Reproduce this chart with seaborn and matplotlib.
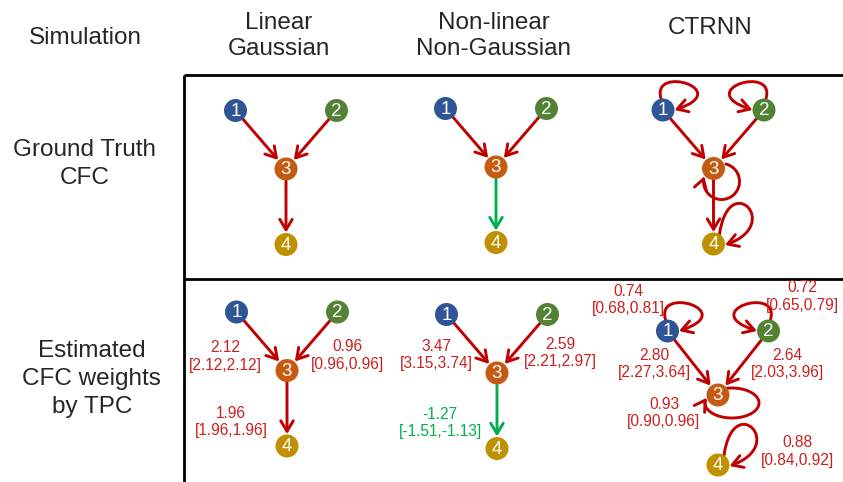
import numpy as np
import pandas as pd
import matplotlib.pyplot as plt
from matplotlib.patches import FancyArrowPatch
from matplotlib.path import Path
import seaborn as sns

# En-têtes du tableau
corner_title = "Simulation"
sim_types = ["Linear\nGaussian", "Non-linear\nNon-Gaussian", "CTRNN"]
row_titles = ["Ground Truth\nCFC", "Estimated\nCFC weights\nby TPC"]

# Noeuds
node_ids = [1, 2, 3, 4]
node_colors = ["#2F5597", "#548235", "#C55A11", "#BF9000"]

# Vrais graphes CFC : (source, cible, signe)
gt_linear = [(1, 3, 1), (2, 3, 1), (3, 4, 1)]
gt_nonlinear = [(1, 3, 1), (2, 3, 1), (3, 4, -1)]
gt_ctrnn = [(1, 1, 1), (2, 2, 1), (1, 3, 1), (2, 3, 1), (3, 3, 1), (3, 4, 1), (4, 4, 1)]

# Poids estimés par TPC (moyenne et intervalle)
est_linear_edges = [(1, 3), (2, 3), (3, 4)]
est_linear_w = [2.12, 0.96, 1.96]
est_linear_lo = [2.12, 0.96, 1.96]
est_linear_hi = [2.12, 0.96, 1.96]

est_nonlinear_edges = [(1, 3), (2, 3), (3, 4)]
est_nonlinear_w = [3.47, 2.59, -1.27]
est_nonlinear_lo = [3.15, 2.21, -1.51]
est_nonlinear_hi = [3.74, 2.97, -1.13]

est_ctrnn_edges = [(1, 1), (2, 2), (1, 3), (2, 3), (3, 3), (4, 4)]
est_ctrnn_w = [0.74, 0.72, 2.80, 2.64, 0.93, 0.88]
est_ctrnn_lo = [0.68, 0.65, 2.27, 2.03, 0.90, 0.84]
est_ctrnn_hi = [0.81, 0.79, 3.64, 3.96, 0.96, 0.92]

# ---- mise en page (pixels) ----
RED = "#C00000"
GREEN = "#00B050"
RED_TXT = "#CC1F1F"

# position du noeud 3 dans chaque panneau
anchors = {
    (0, 0): (286, 169), (0, 1): (496, 167), (0, 2): (713.5, 168.5),
    (1, 0): (287, 370.5), (1, 1): (497, 373), (1, 2): (718, 395),
}
std_dx = [-50.5, 50.5, 0, 0]
std_dy = [-58.5, -58.5, 0, 75.5]
ctrnn_est_dy = [-64, -64, 0, 70]

# position des étiquettes (décalage par rapport au noeud 3)
label_offsets = {
    0: [(-61.5, -14), (60.7, -15), (-56, 51.5)],
    1: [(-61, -18), (63, -20), (-57, 50)],
    2: [(-90, -95), (84, -98.5), (-64, -31), (69, -31), (-54, 18), (79, 56.5)],
}

# boucles : bezier (départ, contrôle 1, contrôle 2, arrivée) ou ellipse (cx, cy, rx, ry, a0, a1)
loop_shapes = {
    1: ("bez", [(-2, -11.5), (-12, -46), (72, -20), (11.5, 0)]),
    2: ("bez", [(2, -11.5), (12, -46), (-72, -20), (-11.5, 0)]),
    3: ("arc", (8, 13, 18, 18, -76, 197)),
    4: ("bez", [(6, -9.5), (15, -75), (70, -20), (11.5, 1)]),
}
loop3_est = ("arc", (14, 8, 27, 15, -101, 200))

sns.set_theme(style="white")
plt.rcParams['font.family'] = ['Liberation Sans', 'DejaVu Sans']

fig = plt.figure(figsize=(8.43, 4.82), dpi=100)
ax = fig.add_axes([0, 0, 1, 1])

ARROW = "->,head_length=7.5,head_width=4.5"


def node_positions(row, col):
    ax0, ay0 = anchors[(row, col)]
    dy = ctrnn_est_dy if (row, col) == (1, 2) else std_dy
    return {n: (ax0 + std_dx[i], ay0 + dy[i]) for i, n in enumerate(node_ids)}


def loop_path(cx, cy, shape):
    kind, p = shape
    if kind == "bez":
        verts = [(cx + dx, cy + dy) for dx, dy in p]
        return Path(verts, [Path.MOVETO, Path.CURVE4, Path.CURVE4, Path.CURVE4])
    ox, oy, rx, ry, a0, a1 = p
    arc = Path.arc(a0, a1)
    verts = arc.vertices * [rx, ry] + [cx + ox, cy + oy]
    return Path(verts, arc.codes)


def draw_edge(pos, src, dst, color, loop=None):
    if src == dst:
        cx, cy = pos[src]
        shape = loop if loop is not None else loop_shapes[src]
        arr = FancyArrowPatch(path=loop_path(cx, cy, shape), arrowstyle=ARROW,
                              mutation_scale=1, color=color, lw=2.1, zorder=2)
    else:
        arr = FancyArrowPatch(pos[src], pos[dst], arrowstyle=ARROW, mutation_scale=1,
                              color=color, lw=2.1, shrinkA=8.3, shrinkB=8.6, zorder=2)
    ax.add_patch(arr)


frames = []
# Ligne du haut : vrais graphes
for col, edges in enumerate([gt_linear, gt_nonlinear, gt_ctrnn]):
    pos = node_positions(0, col)
    for s, d, sign in edges:
        draw_edge(pos, s, d, RED if sign > 0 else GREEN)
    frames.append(pos)

# Ligne du bas : estimations TPC
est_sets = [
    (est_linear_edges, est_linear_w, est_linear_lo, est_linear_hi),
    (est_nonlinear_edges, est_nonlinear_w, est_nonlinear_lo, est_nonlinear_hi),
    (est_ctrnn_edges, est_ctrnn_w, est_ctrnn_lo, est_ctrnn_hi),
]
for col, (edges, w, lo, hi) in enumerate(est_sets):
    pos = node_positions(1, col)
    ax0, ay0 = anchors[(1, col)]
    for k, (s, d) in enumerate(edges):
        col_e = RED if w[k] > 0 else GREEN
        loop = loop3_est if (col == 2 and s == 3 and d == 3) else None
        draw_edge(pos, s, d, col_e, loop)
        ox, oy = label_offsets[col][k]
        ax.text(ax0 + ox, ay0 + oy, f"{w[k]:.2f}\n[{lo[k]:.2f},{hi[k]:.2f}]",
                ha='center', va='center', multialignment='center', linespacing=1.22,
                fontsize=11.2, color=RED_TXT if w[k] > 0 else GREEN)
    frames.append(pos)

# Noeuds avec seaborn
rows = []
for pos in frames:
    for n in node_ids:
        rows.append({"x": pos[n][0], "y": pos[n][1], "node": str(n)})
df_nodes = pd.DataFrame(rows)
sns.scatterplot(data=df_nodes, x="x", y="y", hue="node", palette=node_colors,
                hue_order=[str(n) for n in node_ids], s=274, linewidth=0,
                legend=False, ax=ax, zorder=3)
for _, r in df_nodes.iterrows():
    ax.text(r["x"], r["y"] + 0.5, r["node"], color='white', ha='center', va='center',
            fontsize=13.5, zorder=4)

# Cadre
ax.plot([184, 184], [75, 482], color='black', lw=2, solid_capstyle='butt')
ax.plot([184, 843], [75, 75], color='black', lw=2, solid_capstyle='butt')
ax.plot([184, 843], [279, 279], color='black', lw=2, solid_capstyle='butt')

# En-têtes
ax.text(85, 38, corner_title, ha='center', va='center', fontsize=17.5)
header_x = [278.5, 494, 710]
header_y = [36, 36, 28]
for x, y, t in zip(header_x, header_y, sim_types):
    ax.text(x, y, t, ha='center', va='center', multialignment='center',
            fontsize=17.5, linespacing=1.18)
ax.text(84.5, 164, row_titles[0], ha='center', va='center', multialignment='center',
        fontsize=17.5, linespacing=1.35)
ax.text(91.7, 379, row_titles[1], ha='center', va='center', multialignment='center',
        fontsize=17.5, linespacing=1.35)

ax.set_xlim(0, 843)
ax.set_ylim(482, 0)
ax.axis('off')

fig.savefig('out.png', dpi=100)
